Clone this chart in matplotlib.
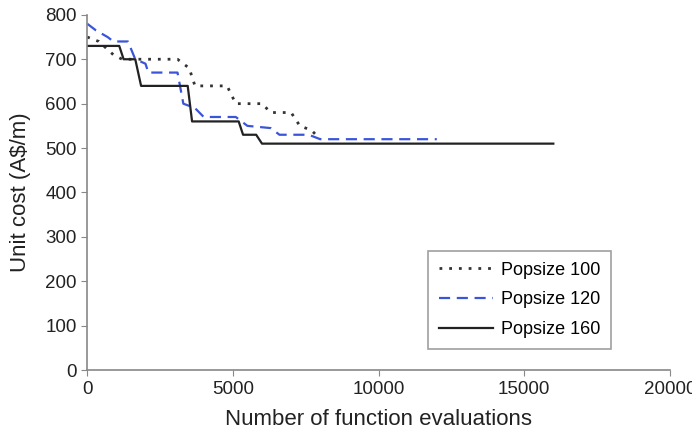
import matplotlib
matplotlib.use('Agg')
import matplotlib.pyplot as plt

plt.rcParams['font.family'] = ['Liberation Sans', 'DejaVu Sans']

# Popsize 100 (dotted)
evals_100 = [0, 400, 900, 1200, 1800, 3100, 3500, 3700, 4800, 5100, 6000, 6300, 7000, 7300, 7700, 8000]
cost_100 = [750, 740, 710, 700, 700, 700, 680, 640, 640, 600, 600, 580, 580, 550, 540, 520]

# Popsize 120 (dashed)
evals_120 = [0, 300, 700, 900, 1400, 1650, 2000, 2100, 3100, 3300, 3700, 4000, 5100, 5500, 6300, 6600, 7600, 8000, 12000]
cost_120 = [780, 765, 750, 740, 740, 700, 690, 670, 670, 600, 590, 570, 570, 550, 545, 530, 530, 520, 520]

# Popsize 160 (solid)
evals_160 = [0, 1100, 1250, 1650, 1850, 3450, 3600, 5200, 5350, 5800, 6000, 16000]
cost_160 = [730, 730, 700, 700, 640, 640, 560, 560, 530, 530, 510, 510]

fig = plt.figure(figsize=(6.92, 4.36), dpi=100)
ax = fig.add_axes([0.126, 0.151, 0.842, 0.815])

ax.plot(evals_100, cost_100, color='#333333', linestyle=(0, (1, 2.5)), linewidth=2, label='Popsize 100')
ax.plot(evals_120, cost_120, color='#3a55d8', linestyle=(0, (5, 3)), linewidth=1.6, label='Popsize 120')
ax.plot(evals_160, cost_160, color='#222222', linestyle='-', linewidth=1.6, label='Popsize 160')

ax.set_xlim(0, 20000)
ax.set_ylim(0, 800)
ax.set_xticks([0, 5000, 10000, 15000, 20000])
ax.set_yticks(range(0, 801, 100))

for side in ['top', 'right']:
    ax.spines[side].set_visible(False)
for side in ['left', 'bottom']:
    ax.spines[side].set_color('#888888')
    ax.spines[side].set_linewidth(1.2)

ax.tick_params(direction='out', length=4, color='#888888', labelsize=13.5, labelcolor='#222222')
ax.set_xlabel('Number of function evaluations', fontsize=16, color='#222222', labelpad=8)
ax.set_ylabel('Unit cost (A$/m)', fontsize=16, color='#222222', labelpad=10)

leg = ax.legend(loc='lower left', bbox_to_anchor=(0.57, 0.035), fontsize=13, frameon=True,
                fancybox=False, edgecolor='#888888', handlelength=3.0, borderpad=0.6, labelspacing=0.7,
                handletextpad=0.4)
leg.get_frame().set_linewidth(1.2)

fig.savefig('out.png', dpi=100)
